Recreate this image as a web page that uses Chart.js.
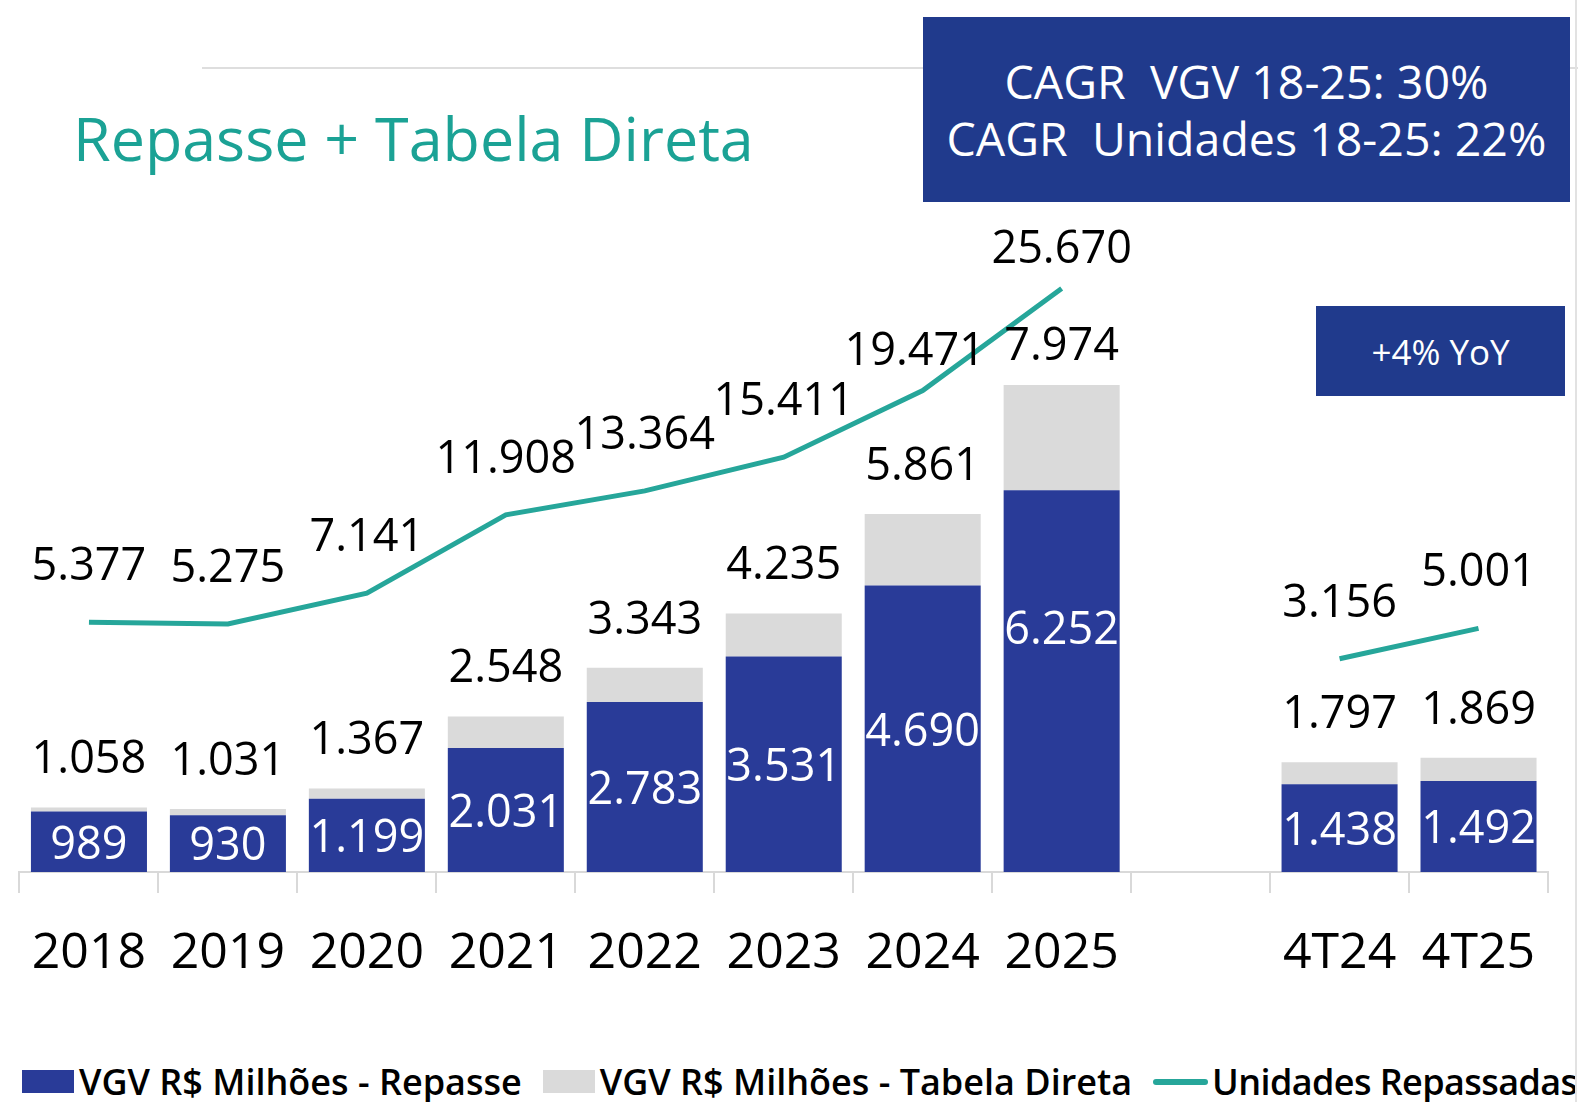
<!DOCTYPE html>
<html>
<head>
<meta charset="utf-8">
<script src="https://cdn.jsdelivr.net/npm/chart.js@4.4.1/dist/chart.umd.min.js"></script>
<style>
  body { margin: 0; width: 1578px; height: 1102px; background: #fff; position: relative; overflow: hidden; font-family: "Open Sans", "Noto Sans", sans-serif; }
  #wrap { position: absolute; left: 0; top: 0; width: 1578px; height: 1025px; }
  #titulo { position: absolute; left: 73px; top: 107px; font-size: 61px; line-height: 1; color: #1ba295; white-space: nowrap; }
  #linha { position: absolute; left: 202px; top: 67px; width: 1376px; height: 2px; background: #dedede; }
  #borda { position: absolute; left: 1575px; top: 0; width: 2px; height: 1102px; background: #e2e2e2; }
  .caixa { position: absolute; background: #203a8c; color: #fff; text-align: center; white-space: pre; display: flex; flex-direction: column; justify-content: center; }
  #cagr { left: 923px; top: 17px; width: 647px; height: 185px; font-size: 46.5px; line-height: 57px; }
  #yoy { left: 1316px; top: 306px; width: 249px; height: 90px; font-size: 35px; line-height: 1; }
  #legenda { position: absolute; left: 22px; top: 1057px; display: flex; align-items: center; font-size: 36px; font-weight: 600; color: #000; white-space: nowrap; }
  #legenda .item { display: flex; align-items: center; margin-right: 21px; }
  #legenda .item:last-child span { letter-spacing: -0.6px; }
  #legenda .box { width: 52px; height: 23px; margin-right: 5px; }
  #legenda .ln { width: 55px; height: 6px; border-radius: 3px; margin-right: 4px; }
</style>
</head>
<body>
<div id="linha"></div>
<div id="titulo">Repasse + Tabela Direta</div>
<div id="wrap"><canvas id="grafico"></canvas></div>
<div id="cagr" class="caixa"><div>CAGR  VGV 18-25: 30%</div><div>CAGR  Unidades 18-25: 22%</div></div>
<div id="yoy" class="caixa"><div>+4% YoY</div></div>
<div id="legenda"></div>
<div id="borda"></div>
<script>
// --- Dados ---
const categorias = ['2018', '2019', '2020', '2021', '2022', '2023', '2024', '2025', '', '4T24', '4T25'];
const vgvRepasse = [989, 930, 1199, 2031, 2783, 3531, 4690, 6252, null, 1438, 1492];
const vgvTabelaDireta = [69, 101, 168, 517, 560, 704, 1171, 1722, null, 359, 377];
const unidadesRepassadas = [5377, 5275, 7141, 11908, 13364, 15411, 19471, 25670, null, 3156, 5001];

// --- Estilo ---
const AZUL = '#293b98';
const CINZA = '#dadada';
const VERDE = '#26a69a';
const FONTE = '"Open Sans", "Noto Sans", sans-serif';

function fmt(v) {
    return v.toLocaleString('de-DE');
}

// Rótulos (não há plugin datalabels disponível)
const rotulos = {
    id: 'rotulos',
    afterDatasetsDraw(chart) {
        const ctx = chart.ctx;
        ctx.save();
        ctx.font = '45px ' + FONTE;
        ctx.textAlign = 'center';
        ctx.textBaseline = 'middle';
        const mRep = chart.getDatasetMeta(0).data;
        const mTab = chart.getDatasetMeta(1).data;
        const mUni = chart.getDatasetMeta(2).data;
        for (let i = 0; i < categorias.length; i++) {
            if (vgvRepasse[i] == null) continue;
            // valor do repasse dentro da barra
            const b = mRep[i];
            let yc = (b.y + b.base) / 2 + 4;
            if (i === 7) yc -= 54;
            ctx.fillStyle = '#fff';
            ctx.fillText(fmt(vgvRepasse[i]), b.x, yc);
            // total acima da barra
            const t = mTab[i];
            ctx.fillStyle = '#000';
            ctx.fillText(fmt(vgvRepasse[i] + vgvTabelaDireta[i]), t.x, t.y - (i === 7 ? 38 : 47));
            // unidades acima da linha
            const p = mUni[i];
            ctx.fillText(fmt(unidadesRepassadas[i]), p.x - (i === 6 ? 8 : 0), p.y - (i >= 6 && i <= 7 ? 38 : 55));
        }
        ctx.restore();
    }
};

const grafico = new Chart(document.getElementById('grafico'), {
    type: 'bar',
    data: {
        labels: categorias,
        datasets: [
            { label: 'VGV R$ Milhões - Repasse', data: vgvRepasse, backgroundColor: AZUL, stack: 'vgv', yAxisID: 'y', order: 1, barPercentage: 0.835, categoryPercentage: 1 },
            { label: 'VGV R$ Milhões - Tabela Direta', data: vgvTabelaDireta, backgroundColor: CINZA, stack: 'vgv', yAxisID: 'y', order: 1, barPercentage: 0.835, categoryPercentage: 1 },
            { type: 'line', label: 'Unidades Repassadas', data: unidadesRepassadas, borderColor: VERDE, backgroundColor: VERDE, borderWidth: 5, pointRadius: 0, spanGaps: false, yAxisID: 'y2', order: 0, tension: 0 }
        ]
    },
    options: {
        responsive: true,
        maintainAspectRatio: false,
        animation: false,
        layout: { padding: { top: 200, left: 17, right: 30, bottom: 10 } },
        plugins: { legend: { display: false }, tooltip: { enabled: false } },
        scales: {
            x: {
                stacked: true,
                grid: { display: true, drawOnChartArea: false, color: '#d9d9d9', lineWidth: 2, tickLength: 21, offset: true },
                border: { display: true, color: '#d9d9d9', width: 2 },
                ticks: { color: '#000', font: { family: FONTE, size: 50 }, padding: 31, maxRotation: 0, autoSkip: false }
            },
            y: { stacked: true, display: false, min: 0, max: 11005 },
            y2: { display: false, min: -9813, max: 31055 }
        }
    },
    plugins: [rotulos]
});

// Legenda em HTML
const legenda = document.getElementById('legenda');
grafico.data.datasets.forEach(ds => {
    const item = document.createElement('div');
    item.className = 'item';
    const sw = document.createElement('div');
    sw.className = ds.type === 'line' ? 'ln' : 'box';
    sw.style.background = ds.type === 'line' ? ds.borderColor : ds.backgroundColor;
    const tx = document.createElement('span');
    tx.textContent = ds.label;
    item.appendChild(sw);
    item.appendChild(tx);
    legenda.appendChild(item);
});
</script>
</body>
</html>
